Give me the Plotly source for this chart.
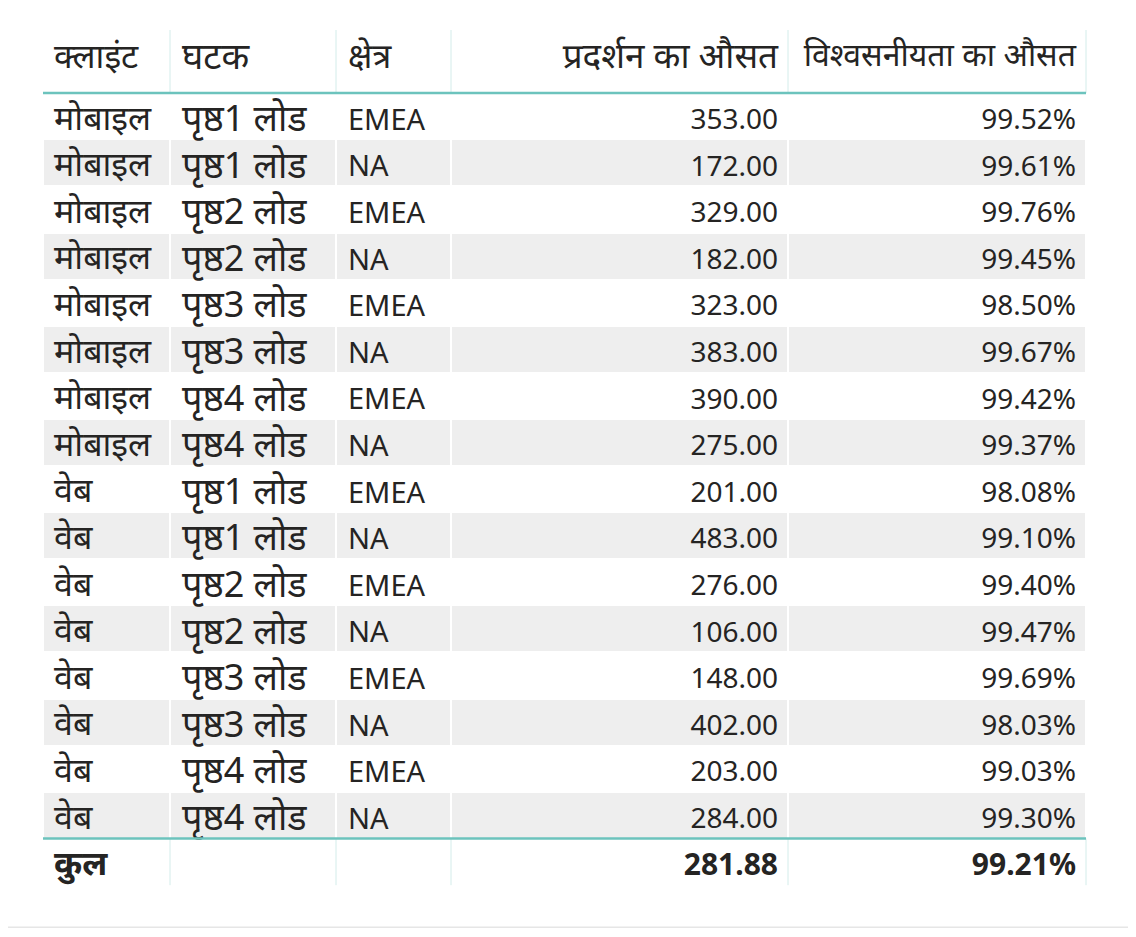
import plotly.graph_objects as go

headers = ["क्लाइंट", "घटक", "क्षेत्र", "प्रदर्शन का औसत", "विश्वसनीयता का औसत"]
clients = ["मोबाइल"] * 8 + ["वेब"] * 8
components = ["पृष्ठ1 लोड", "पृष्ठ1 लोड", "पृष्ठ2 लोड", "पृष्ठ2 लोड",
              "पृष्ठ3 लोड", "पृष्ठ3 लोड", "पृष्ठ4 लोड", "पृष्ठ4 लोड"] * 2
regions = ["EMEA", "NA"] * 8
performance = [353.00, 172.00, 329.00, 182.00, 323.00, 383.00, 390.00, 275.00,
               201.00, 483.00, 276.00, 106.00, 148.00, 402.00, 203.00, 284.00]
reliability = [99.52, 99.61, 99.76, 99.45, 98.50, 99.67, 99.42, 99.37,
               98.08, 99.10, 99.40, 99.47, 99.69, 98.03, 99.03, 99.30]
total_label = "कुल"
total_performance = 281.88
total_reliability = 99.21

# page body adds an 8px margin; work in screen pixels and subtract it
OFF = 8
W, H = 1136 - 2 * OFF, 937 - 2 * OFF
TOP = 30
HEADER_H = 63
ROW_H = 46.6
grid_bounds = [43, 170, 336, 451, 788, 1086]   # visible grid
text_bounds = [46, 174, 340, 455, 786, 1084]   # text columns

n = len(clients)
col1 = clients
col2 = components
col3 = regions
col4 = [f"{v:.2f}" for v in performance]
col5 = [f"{v:.2f}%" for v in reliability]
tot_dev = [total_label, ""]
tot_lat = ["", f"{total_performance:.2f}", f"{total_reliability:.2f}%"]

row_fill = [("#ffffff" if i % 2 == 0 else "#eeeeee") for i in range(n)] + ["#ffffff"]

FONT = "Noto Sans, Noto Sans Devanagari, Open Sans, sans-serif"
TXT = "#252423"
CLEAR = "rgba(0,0,0,0)"

header_bottom = TOP + HEADER_H
total_top = header_bottom + n * ROW_H
total_bottom = total_top + ROW_H


def sx(px):
    return (px - OFF) / W


def sy(px):
    return 1 - (px - OFF) / H


def widths(b):
    return [b[i + 1] - b[i] for i in range(len(b) - 1)]


fig = go.Figure()

# background grid: fills only
fig.add_trace(go.Table(
    domain=dict(x=[sx(grid_bounds[0]), sx(grid_bounds[-1])], y=[0, sy(TOP)]),
    columnwidth=widths(grid_bounds),
    header=dict(values=[""] * 5, height=HEADER_H, fill_color="#ffffff",
                line=dict(color="#ffffff", width=1)),
    cells=dict(values=[[""] * (n + 1)] * 5, height=ROW_H,
               fill_color=[row_fill] * 5,
               line=dict(color="#ffffff", width=1.5)),
))


def text_table(cols, hdrs, bounds, aligns, hsize, csize, hs, cs):
    fig.add_trace(go.Table(
        domain=dict(x=[sx(bounds[0]), sx(bounds[-1])], y=[0, sy(TOP + hs)]),
        columnwidth=widths(bounds),
        header=dict(values=hdrs, align=aligns, height=HEADER_H + cs - hs,
                    fill_color=CLEAR, line=dict(color=CLEAR, width=0),
                    font=dict(family=FONT, size=hsize, color=TXT)),
        cells=dict(values=cols, align=aligns, height=ROW_H,
                   fill_color=CLEAR, line=dict(color=CLEAR, width=0),
                   font=dict(family=FONT, size=csize, color=TXT)),
    ))


def total_table(vals, bounds, aligns, size, shift):
    # total row drawn as a single bold header row
    fig.add_trace(go.Table(
        domain=dict(x=[sx(bounds[0]), sx(bounds[-1])],
                    y=[0, sy(total_top + shift)]),
        columnwidth=widths(bounds),
        header=dict(values=vals, align=aligns, height=ROW_H,
                    fill_color=CLEAR, line=dict(color=CLEAR, width=0),
                    font=dict(family=FONT, size=size, color=TXT, weight="bold")),
        cells=dict(values=[[""]] * len(vals), height=1,
                   fill_color=CLEAR, line=dict(color=CLEAR, width=0)),
    ))


text_table([col1, col2], headers[:2], text_bounds[:3], ["left", "left"],
           [34, 36], [34, 36], 4, 3)
text_table([col3, col4, col5], headers[2:], text_bounds[2:], ["left", "right", "right"],
           [34, 35, 32], [29, 28, 28], 4, 7)
total_table(tot_dev, text_bounds[:3], ["left", "left"], 34, 3)
total_table(tot_lat, text_bounds[2:], ["left", "right", "right"], 30, 6)

shapes = []
teal = "#6cc3bd"
light = "#d3ecea"
for b in grid_bounds[1:]:
    shapes.append(dict(type="line", xref="paper", yref="paper",
                       x0=sx(b), x1=sx(b), y0=sy(TOP), y1=sy(header_bottom),
                       line=dict(color=light, width=1)))
    shapes.append(dict(type="line", xref="paper", yref="paper",
                       x0=sx(b), x1=sx(b), y0=sy(total_top), y1=sy(total_bottom),
                       line=dict(color=light, width=1)))
for yy in (header_bottom, total_top):
    shapes.append(dict(type="line", xref="paper", yref="paper",
                       x0=sx(grid_bounds[0]), x1=sx(grid_bounds[-1]), y0=sy(yy), y1=sy(yy),
                       line=dict(color=teal, width=2.5)))
shapes.append(dict(type="line", xref="paper", yref="paper",
                   x0=0, x1=1, y0=0.002, y1=0.002,
                   line=dict(color="#e6e6e6", width=1.5)))

fig.update_layout(
    width=W, height=H,
    margin=dict(l=0, r=0, t=0, b=0),
    paper_bgcolor="#ffffff",
    plot_bgcolor="#ffffff",
    shapes=shapes,
)

fig.write_html("out.html")
